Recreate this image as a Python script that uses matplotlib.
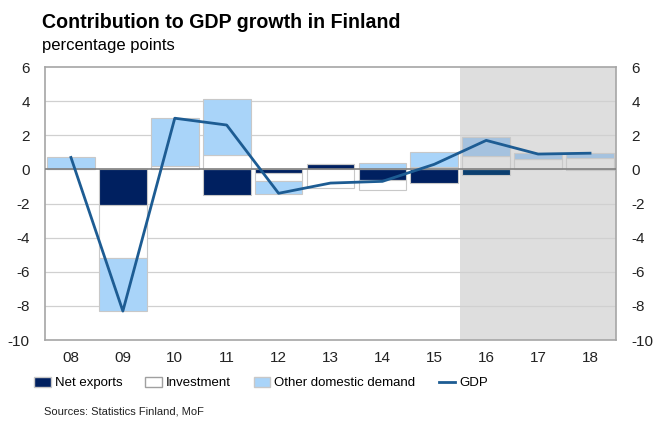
import numpy as np
import matplotlib
matplotlib.use('Agg')
import matplotlib.pyplot as plt
import matplotlib.patches as mpatches
from matplotlib.lines import Line2D

plt.rcParams['font.family'] = ['Liberation Sans', 'DejaVu Sans']
plt.rcParams['axes.unicode_minus'] = False

##===========================================
# Data
##===========================================
years = ['08', '09', '10', '11', '12', '13', '14', '15', '16', '17', '18']
net_exports = [0.0, -2.1, 0.0, -1.5, -0.2, 0.3, -0.6, -0.8, -0.3, 0.0, -0.05]
investment = [0.0, -3.1, 0.2, 0.85, -0.45, -1.1, -0.6, 0.15, 0.8, 0.6, 0.65]
other_dom = [0.7, -3.1, 2.8, 3.25, -0.8, 0.0, 0.4, 0.85, 1.1, 0.35, 0.33]
gdp = [0.7, -8.3, 3.0, 2.6, -1.4, -0.8, -0.7, 0.3, 1.7, 0.9, 0.95]
n_forecast = 3

nx_c = '#002060'
inv_c = 'white'
odd_c = '#a9d4f9'
gdp_c = '#1d5c93'
edge_c = '#c8c8c8'

nx_f = '#0b3f70'
inv_f = '#dedede'
odd_f = '#a5c2df'

##===========================================
# Plot
##===========================================
fig = plt.figure(figsize=(6.56, 4.23), dpi=100)
ax = fig.add_axes([0.0686, 0.196, 0.8704, 0.6456])

x = np.arange(len(years))
nfirst = len(years) - n_forecast
ax.axvspan(nfirst - 0.5, len(years) - 0.5, color='#dedede', zorder=0, lw=0)

w = 0.92
for i in range(len(years)):
    fc = i >= nfirst
    pos = 0.0
    neg = 0.0
    for val, col, colf in [(net_exports[i], nx_c, nx_f),
                           (investment[i], inv_c, inv_f),
                           (other_dom[i], odd_c, odd_f)]:
        if val >= 0:
            b = pos
            pos += val
        else:
            b = neg
            neg += val
        ax.bar(x[i], val, bottom=b, width=w, color=colf if fc else col,
               edgecolor=edge_c, linewidth=0.8, zorder=2)

ax.plot(x, gdp, '-', color=gdp_c, linewidth=2, zorder=4)

ax.axhline(0, color='#808080', linewidth=1.2, zorder=3)
for yv in range(-8, 6, 2):
    if yv != 0:
        ax.axhline(yv, color='#d0d0d0', linewidth=0.9, zorder=1)

ax.set_xlim(-0.5, len(years) - 0.5)
ax.set_ylim(-10, 6)
ax.set_xticks(x)
ax.set_xticklabels(years)
ax.set_yticks(range(-10, 7, 2))
ax.tick_params(length=0, labelsize=11, labelcolor='#222222')
ax.tick_params(axis='y', pad=11)
ax.tick_params(axis='x', pad=8)
ax.yaxis.set_tick_params(labelright=True)
for sp in ax.spines.values():
    sp.set_color('#a6a6a6')
    sp.set_linewidth(1.2)

fig.text(0.064, 0.947, 'Contribution to GDP growth in Finland', fontsize=14.1,
         fontweight='bold', ha='left', va='center')
fig.text(0.064, 0.893, 'percentage points', fontsize=12, ha='left', va='center')

handles = [mpatches.Patch(facecolor=nx_c, edgecolor=edge_c, label='Net exports'),
           mpatches.Patch(facecolor=inv_c, edgecolor='#a0a0a0', label='Investment'),
           mpatches.Patch(facecolor=odd_c, edgecolor=edge_c, label='Other domestic demand'),
           Line2D([], [], color=gdp_c, linewidth=2, label='GDP')]
fig.legend(handles=handles, loc='center left', bbox_to_anchor=(0.034, 0.094),
           ncol=4, frameon=False, fontsize=9.5, handlelength=1.25,
           handleheight=0.75, handletextpad=0.3, columnspacing=1.75)

fig.text(0.067, 0.028, 'Sources: Statistics Finland, MoF', fontsize=8, ha='left',
         va='center', color='#222222')

plt.savefig('out.png', dpi=100)
